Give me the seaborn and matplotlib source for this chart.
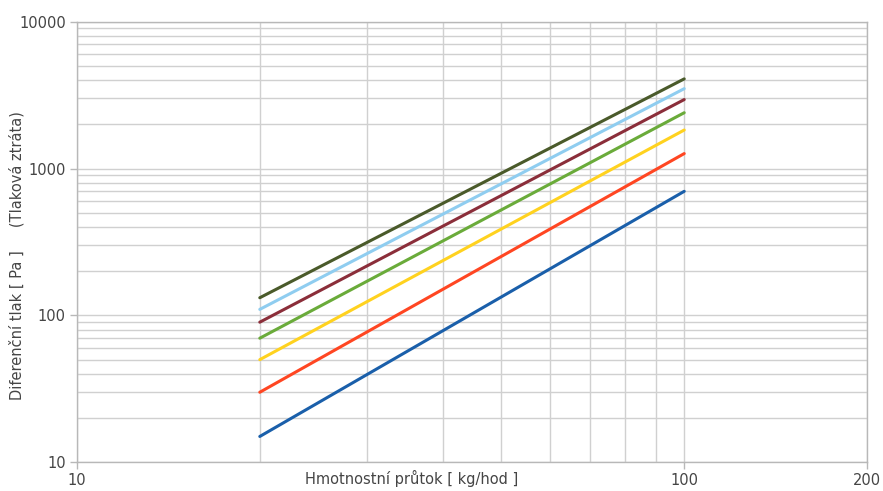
import numpy as np
import pandas as pd
import matplotlib
matplotlib.use("Agg")
import matplotlib.pyplot as plt
import matplotlib.ticker as mticker
import seaborn as sns

# ---- data ----
flow = [20, 100]                       # kg/hod
series_names = ["s1", "s2", "s3", "s4", "s5", "s6", "s7"]
s1 = [15, 700]
s2 = [30, 1265]
s3 = [50, 1830]
s4 = [70, 2400]
s5 = [90, 2950]
s6 = [110, 3500]
s7 = [132, 4080]
colors = ["#1a5faa", "#ff4622", "#ffd21f", "#6aab3a", "#8b2e3a", "#8fcdf0", "#4a5a2a"]

x_major = [10, 100, 200]
x_minor = [20, 30, 40, 50, 60, 70, 80, 90]
y_major = [10, 100, 1000, 10000]

rows = []
for name, vals in zip(series_names, [s1, s2, s3, s4, s5, s6, s7]):
    for f, v in zip(flow, vals):
        rows.append({"flow": f, "dp": v, "series": name})
df = pd.DataFrame(rows)

sns.set_style("white")
plt.rcParams["font.family"] = ["DejaVu Sans"]
txt = "#454545"
grid_c = "#d0d0d0"

fig = plt.figure(figsize=(8.83, 4.91), dpi=100)
ax = fig.add_axes([0.0872, 0.0584, 0.8947, 0.8974])

sns.lineplot(data=df, x="flow", y="dp", hue="series", palette=colors,
             linewidth=2.2, legend=False, ax=ax, zorder=3)

ax.set_xscale("log")
ax.set_yscale("log")
ax.set_xlim(10, 200)
ax.set_ylim(10, 10000)

ax.xaxis.set_major_locator(mticker.FixedLocator(x_major))
ax.xaxis.set_minor_locator(mticker.FixedLocator(x_minor))
ax.xaxis.set_major_formatter(mticker.FixedFormatter([str(v) for v in x_major]))
ax.xaxis.set_minor_formatter(mticker.NullFormatter())
ax.yaxis.set_major_locator(mticker.FixedLocator(y_major))
ax.yaxis.set_major_formatter(mticker.FixedFormatter([str(v) for v in y_major]))
ax.yaxis.set_minor_locator(mticker.LogLocator(base=10, subs=np.arange(2, 10)))
ax.yaxis.set_minor_formatter(mticker.NullFormatter())

ax.grid(True, which="both", axis="both", color=grid_c, linewidth=1.0, zorder=0)
ax.set_axisbelow(True)

for sp in ax.spines.values():
    sp.set_color("#b8b8b8")
    sp.set_linewidth(1.0)

ax.tick_params(axis="both", which="major", length=5, width=1.0, color="#b8b8b8",
               labelsize=10.5, labelcolor=txt, pad=3, direction="out",
               left=True, bottom=True)
ax.tick_params(axis="both", which="minor", length=0)

ax.set_xlabel("Hmotnostní průtok [ kg/hod ]", fontsize=10.5, color=txt)
ax.xaxis.set_label_coords(0.423, -0.018)
ax.set_ylabel("Diferenční tlak [ Pa ]     (Tlaková ztráta)", fontsize=10.5, color=txt)
ax.yaxis.set_label_coords(-0.066, 0.47)

fig.savefig("out.png", dpi=100, facecolor="white")
